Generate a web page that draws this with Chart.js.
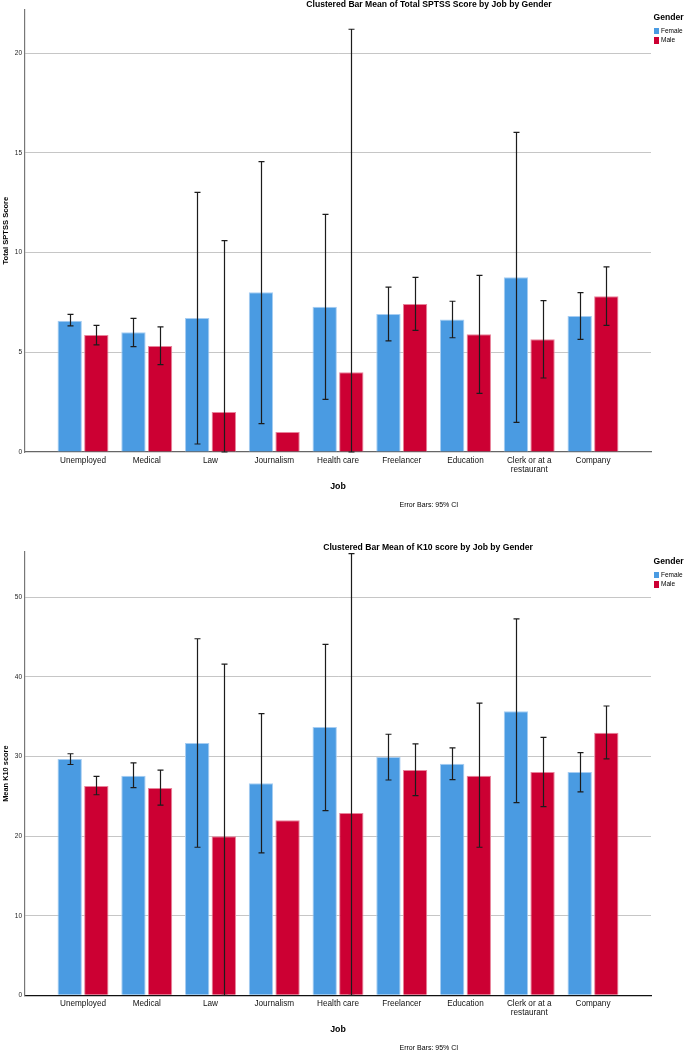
<!DOCTYPE html>
<html>
<head>
<meta charset="utf-8">
<script src="https://cdn.jsdelivr.net/npm/chart.js@4"></script>
<style>
html,body{margin:0;padding:0;background:#fff;}
body{width:685px;height:1050px;position:relative;overflow:hidden;font-family:"Liberation Sans",Arial,sans-serif;}
canvas{position:absolute;left:0;}
.t{position:absolute;white-space:nowrap;color:#000;line-height:1;transform:translateY(-50%);}
.c{transform:translate(-50%,-50%);}
.b{font-weight:bold;}
.sw{position:absolute;width:5.5px;height:6.5px;}
</style>
</head>
<body>
<canvas id="c1" width="685" height="515" style="top:0px"></canvas>
<canvas id="c2" width="685" height="535" style="top:515px"></canvas>

<div class="t c b" style="left:429px;top:4px;font-size:8.6px;">Clustered Bar Mean of Total SPTSS Score by Job by Gender</div>
<div class="t b" style="left:653.5px;top:17px;font-size:8.6px;">Gender</div>
<div class="sw" style="left:653.7px;top:27.5px;background:#4a9be2;"></div>
<div class="t" style="left:661px;top:30.7px;font-size:6.5px;">Female</div>
<div class="sw" style="left:653.7px;top:37px;background:#cc0033;"></div>
<div class="t" style="left:661px;top:40.2px;font-size:6.5px;">Male</div>
<div class="t" style="left:399.5px;top:504px;font-size:7px;">Error Bars: 95% CI</div>

<div class="t c b" style="left:428px;top:546.7px;font-size:8.6px;">Clustered Bar Mean of K10 score by Job by Gender</div>
<div class="t b" style="left:653.5px;top:561px;font-size:8.6px;">Gender</div>
<div class="sw" style="left:653.7px;top:571.5px;background:#4a9be2;"></div>
<div class="t" style="left:661px;top:574.7px;font-size:6.5px;">Female</div>
<div class="sw" style="left:653.7px;top:581px;background:#cc0033;"></div>
<div class="t" style="left:661px;top:584.2px;font-size:6.5px;">Male</div>
<div class="t" style="left:399.5px;top:1047.3px;font-size:7px;">Error Bars: 95% CI</div>

<script>
// ---------- DATA ----------
const categories = ['Unemployed','Medical','Law','Journalism','Health care','Freelancer','Education','Clerk or at a restaurant','Company'];
const genders = ['Female','Male'];

// Total SPTSS Score (means and 95% CI bounds)
const sptssFemale   = [6.58, 6.00, 6.72, 8.01, 7.29, 6.92, 6.65, 8.76, 6.82];
const sptssFemaleLo = [6.32, 5.28, 0.40, 1.42, 2.64, 5.57, 5.73, 1.49, 5.65];
const sptssFemaleHi = [6.90, 6.70, 13.02, 14.56, 11.92, 8.27, 7.56, 16.03, 7.99];
const sptssMale     = [5.87, 5.32, 2.01, 1.00, 4.00, 7.42, 5.90, 5.65, 7.81];
const sptssMaleLo   = [5.37, 4.38, 0.00, null, 0.00, 6.10, 2.94, 3.71, 6.35];
const sptssMaleHi   = [6.35, 6.27, 10.60, null, 21.20, 8.76, 8.86, 7.59, 9.28];
const sptssTicks = [0, 5, 10, 15, 20];

// K10 score (means and 95% CI bounds)
const k10Female   = [29.7, 27.6, 31.7, 26.65, 33.7, 29.95, 29.1, 35.7, 28.05];
const k10FemaleLo = [29.0, 26.1, 18.6, 17.9, 23.2, 27.05, 27.1, 24.2, 25.55];
const k10FemaleHi = [30.35, 29.2, 44.8, 35.4, 44.1, 32.8, 31.1, 47.3, 30.5];
const k10Male     = [26.3, 26.05, 20.0, 22.0, 22.9, 28.3, 27.6, 28.05, 33.0];
const k10MaleLo   = [25.2, 23.9, 0.0, null, 0.0, 25.1, 18.6, 23.7, 29.7];
const k10MaleHi   = [27.5, 28.3, 41.6, null, 55.5, 31.6, 36.7, 32.4, 36.35];
const k10Ticks = [0, 10, 20, 30, 40, 50];

// ---------- HELPERS ----------
const FAMILY = '"Liberation Sans", Arial, sans-serif';
const BLUE = '#4a9be2', BLUE_EDGE = '#a6cdf2';
const RED = '#cc0033', RED_EDGE = '#e8849b';

function wrap(label, max = 13) {
  const words = String(label).split(' ');
  const lines = [];
  let cur = '';
  words.forEach(w => {
    const next = cur ? cur + ' ' + w : w;
    if (next.length > max && cur) { lines.push(cur); cur = w; } else { cur = next; }
  });
  if (cur) lines.push(cur);
  return lines.length === 1 ? lines[0] : lines;
}

const errorBars = {
  id: 'errorBars',
  afterDatasetsDraw(chart) {
    const ctx = chart.ctx, ys = chart.scales.y;
    chart.data.datasets.forEach((ds, di) => {
      const meta = chart.getDatasetMeta(di);
      meta.data.forEach((bar, i) => {
        const lo = ds.errLo[i], hi = ds.errHi[i];
        if (lo == null || hi == null) return;
        const x = Math.round(bar.x) + 0.5;
        const y1 = ys.getPixelForValue(lo), y2 = ys.getPixelForValue(hi);
        ctx.save();
        ctx.strokeStyle = '#1c1c1c';
        ctx.lineWidth = 1.2;
        ctx.beginPath();
        ctx.moveTo(x, y1); ctx.lineTo(x, y2);
        ctx.moveTo(x - 3, y1); ctx.lineTo(x + 3, y1);
        ctx.moveTo(x - 3, y2); ctx.lineTo(x + 3, y2);
        ctx.stroke();
        ctx.restore();
      });
    });
  }
};

function makeChart(id, cfg) {
  const toPts = arr => arr.map((v, i) => ({ x: i, y: v }));
  return new Chart(document.getElementById(id), {
    type: 'bar',
    data: {
      datasets: [
        { label: genders[0], data: toPts(cfg.female), errLo: cfg.fLo, errHi: cfg.fHi,
          backgroundColor: BLUE, borderColor: BLUE_EDGE, borderWidth: 1,
          categoryPercentage: 0.835, barPercentage: 0.915 },
        { label: genders[1], data: toPts(cfg.male), errLo: cfg.mLo, errHi: cfg.mHi,
          backgroundColor: RED, borderColor: RED_EDGE, borderWidth: 1,
          categoryPercentage: 0.835, barPercentage: 0.915 }
      ]
    },
    options: {
      responsive: false,
      animation: false,
      devicePixelRatio: 1,
      layout: { padding: { top: cfg.top, right: 34, left: 0, bottom: 0 } },
      plugins: { legend: { display: false }, title: { display: false }, tooltip: { enabled: false } },
      scales: {
        x: {
          type: 'linear', min: -0.91, max: 8.91, offset: false,
          afterBuildTicks: s => { s.ticks = categories.map((c, i) => ({ value: i })); },
          afterFit: s => { s.height = cfg.xh; },
          ticks: {
            autoSkip: false, maxRotation: 0, minRotation: 0, padding: cfg.xpad, color: '#111',
            font: { family: FAMILY, size: 8.2, lineHeight: 1.1 },
            callback: v => wrap(categories[v])
          },
          grid: { color: 'transparent', drawTicks: false, tickLength: 0 },
          border: { display: true, color: cfg.baseColor, width: 1.2 },
          title: { display: true, text: 'Job', color: '#000',
                   font: { family: FAMILY, size: 8.8, weight: 'bold', lineHeight: 1.2 },
                   padding: { top: 0, bottom: cfg.jobPad } }
        },
        y: {
          min: 0, max: cfg.max,
          afterBuildTicks: s => { s.ticks = cfg.ticks.map(v => ({ value: v })); },
          afterFit: s => { s.width = 25; },
          ticks: { padding: 3, color: '#222', font: { family: FAMILY, size: 6.5 } },
          grid: { color: c => (c.tick && c.tick.value === 0) ? 'transparent' : '#c6c6c6',
                  lineWidth: 1, drawTicks: false, tickLength: 0 },
          border: { display: true, color: '#777', width: 1.2 },
          title: { display: true, text: cfg.ytitle, color: '#000',
                   font: { family: FAMILY, size: cfg.ytSize, weight: 'bold', lineHeight: 1.2 },
                   padding: { top: 1.5, bottom: 0 } }
        }
      }
    },
    plugins: [errorBars]
  });
}

makeChart('c1', {
  female: sptssFemale, fLo: sptssFemaleLo, fHi: sptssFemaleHi,
  male: sptssMale, mLo: sptssMaleLo, mHi: sptssMaleHi,
  ticks: sptssTicks, max: 22.2, top: 9.3, xh: 63, xpad: 4.5, jobPad: 23,
  baseColor: '#666', ytitle: 'Total SPTSS Score', ytSize: 7.6
});

makeChart('c2', {
  female: k10Female, fLo: k10FemaleLo, fHi: k10FemaleHi,
  male: k10Male, mLo: k10MaleLo, mHi: k10MaleHi,
  ticks: k10Ticks, max: 55.7, top: 37, xh: 54.7, xpad: 3.5, jobPad: 14.7,
  baseColor: '#111', ytitle: 'Mean K10 score', ytSize: 7.4
});
</script>
</body>
</html>
